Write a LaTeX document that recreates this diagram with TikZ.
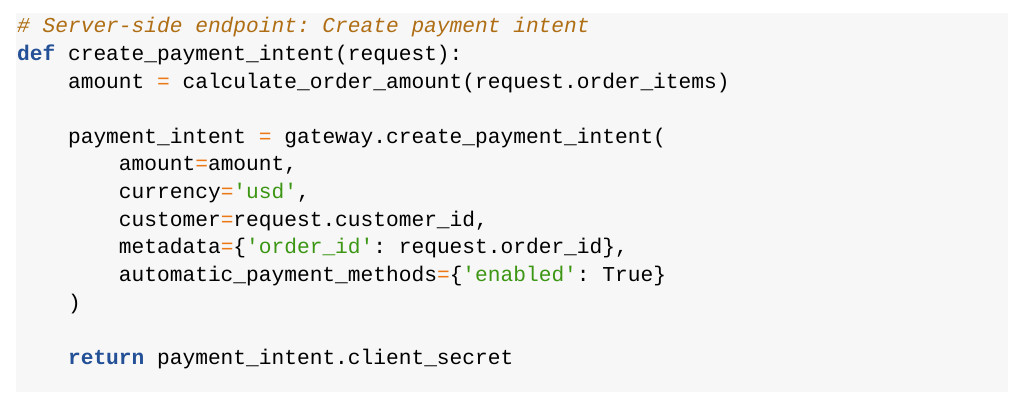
\documentclass[tikz,border=0pt]{standalone}
\usepackage{fontspec}
\setmonofont{Liberation Mono}
\definecolor{bg}{RGB}{247,247,247}
\definecolor{cmt}{RGB}{175,110,20}
\definecolor{kw}{RGB}{35,80,150}
\definecolor{op}{RGB}{235,120,20}
\definecolor{str}{RGB}{60,150,20}
\newcommand{\K}[1]{\textcolor{kw}{\bfseries #1}}
\newcommand{\Op}[1]{\textcolor{op}{#1}}
\newcommand{\St}[1]{\textcolor{str}{#1}}
\begin{document}
\begin{tikzpicture}[x=1pt,y=-1pt,
  code/.style={anchor=base west,inner sep=0pt,font=\ttfamily\fontsize{21.2}{24}\selectfont}]
\useasboundingbox (0,0) rectangle (1024,406);
\fill[bg] (16,13) rectangle (1008,392);
\def\p{27.6}
\node[code] (l1) at (17,33) {\textcolor{cmt}{\itshape \# Server-side endpoint: Create payment intent}};
\node[code] (l2) at (17,33+\p) {\K{def} create\_payment\_intent(request):};
\node[code] (l3) at (17,33+2*\p) {\phantom{def }amount \Op{=} calculate\_order\_amount(request.order\_items)};
\node[code] (l5) at (17,33+4*\p) {\phantom{def }payment\_intent \Op{=} gateway.create\_payment\_intent(};
\node[code] (l6) at (17,33+5*\p) {\phantom{def def }amount\Op{=}amount,};
\node[code] (l7) at (17,33+6*\p) {\phantom{def def }currency\Op{=}\St{'usd'},};
\node[code] (l8) at (17,33+7*\p) {\phantom{def def }customer\Op{=}request.customer\_id,};
\node[code] (l9) at (17,33+8*\p) {\phantom{def def }metadata\Op{=}\{\St{'order\_id'}: request.order\_id\},};
\node[code] (l10) at (17,33+9*\p) {\phantom{def def }automatic\_payment\_methods\Op{=}\{\St{'enabled'}: True\}};
\node[code] (l11) at (17,33+10*\p) {\phantom{def })};
\node[code] (l13) at (17,33+12*\p) {\phantom{def }\K{return} payment\_intent.client\_secret};
\end{tikzpicture}
\end{document}
